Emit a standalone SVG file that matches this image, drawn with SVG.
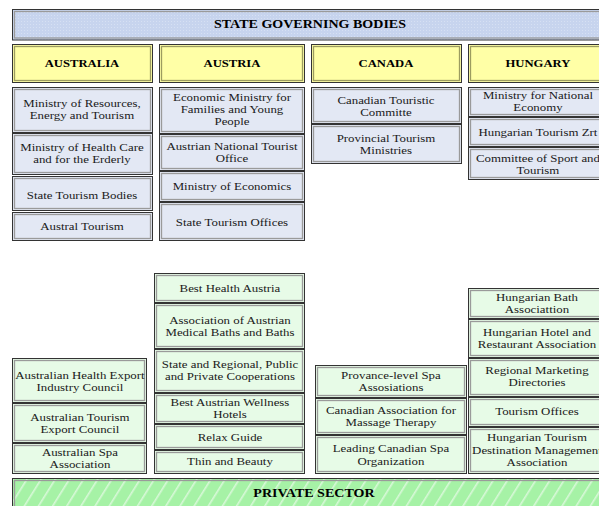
<svg xmlns="http://www.w3.org/2000/svg" width="599" height="506" viewBox="0 0 599 506">
<defs>
<pattern id="stripes" patternUnits="userSpaceOnUse" width="12" height="12" patternTransform="rotate(32)">
<rect width="12" height="12" fill="#a6f2a6"/>
<rect width="1.6" height="12" fill="#d8f8d8"/>
</pattern>
<pattern id="grid" patternUnits="userSpaceOnUse" width="3" height="3">
<rect width="3" height="3" fill="#c7d4ee"/>
<rect width="1" height="1" fill="#d6e0f3"/>
</pattern>
</defs>
<style>
text{font-family:"Liberation Serif","Times New Roman",serif;font-size:11px;fill:#1a1a1a;text-anchor:middle;transform-box:fill-box;transform-origin:center;transform:scaleX(1.17)}
.b{font-weight:bold;font-size:11px;fill:#000;transform:scaleX(1.15)}
.bb{font-weight:bold;font-size:12px;fill:#000;transform:scaleX(1.17)}
.o{stroke:#333;stroke-width:1}
.i{fill:none;stroke:#9a9a9a;stroke-width:1.3}
.hi{fill:none;stroke:#9c9c60;stroke-width:1.3}
.gov{fill:#e3e8f4}
.prv{fill:#e7fbe7}
.hdr{fill:#ffffa6}
</style>
<rect width="599" height="506" fill="#fff"/>
<g id="connectors"/>

<g id="state-governing-bodies">
<rect class="o" x="12.5" y="9.5" width="600" height="30.5" fill="url(#grid)"/>
<rect class="i" x="14.5" y="11.5" width="596" height="26.5"/>
<text class="bb" x="310" y="28.5">STATE GOVERNING BODIES</text>
</g>

<g id="hdr-australia"><rect class="o hdr" x="12.5" y="44.5" width="140" height="38"/><rect class="hi" x="14.5" y="46.5" width="136" height="34"/><text class="b" x="82" y="67">AUSTRALIA</text></g>
<g id="hdr-austria"><rect class="o hdr" x="159.5" y="44.5" width="145" height="38"/><rect class="hi" x="161.5" y="46.5" width="141" height="34"/><text class="b" x="232" y="67">AUSTRIA</text></g>
<g id="hdr-canada"><rect class="o hdr" x="311.5" y="44.5" width="150" height="38"/><rect class="hi" x="313.5" y="46.5" width="146" height="34"/><text class="b" x="386" y="67">CANADA</text></g>
<g id="hdr-hungary"><rect class="o hdr" x="468.5" y="44.5" width="140" height="38"/><rect class="hi" x="470.5" y="46.5" width="136" height="34"/><text class="b" x="538" y="67">HUNGARY</text></g>

<g id="au-gov-1"><rect class="o gov" x="12.5" y="87.5" width="140" height="45"/><rect class="i" x="14.5" y="89.5" width="136" height="41"/><text x="82" y="107.5">Ministry of Resources,</text><text x="82" y="119.5">Energy and Tourism</text></g>
<g id="au-gov-2"><rect class="o gov" x="12.5" y="133.5" width="140" height="41"/><rect class="i" x="14.5" y="135.5" width="136" height="37"/><text x="82" y="151.5">Ministry of Health Care</text><text x="82" y="163.5">and for the Erderly</text></g>
<g id="au-gov-3"><rect class="o gov" x="12.5" y="176.5" width="140" height="34"/><rect class="i" x="14.5" y="178.5" width="136" height="30"/><text x="82" y="199">State Tourism Bodies</text></g>
<g id="au-gov-4"><rect class="o gov" x="12.5" y="212.5" width="140" height="28"/><rect class="i" x="14.5" y="214.5" width="136" height="24"/><text x="82" y="230">Austral Tourism</text></g>

<g id="at-gov-1"><rect class="o gov" x="159.5" y="87.5" width="145" height="46"/><rect class="i" x="161.5" y="89.5" width="141" height="42"/><text x="232" y="101.5">Economic Ministry for</text><text x="232" y="113.5">Families and Young</text><text x="232" y="125.5">People</text></g>
<g id="at-gov-2"><rect class="o gov" x="159.5" y="134.5" width="145" height="36"/><rect class="i" x="161.5" y="136.5" width="141" height="32"/><text x="232" y="150">Austrian National Tourist</text><text x="232" y="162">Office</text></g>
<g id="at-gov-3"><rect class="o gov" x="159.5" y="171.5" width="145" height="30"/><rect class="i" x="161.5" y="173.5" width="141" height="26"/><text x="232" y="190">Ministry of Economics</text></g>
<g id="at-gov-4"><rect class="o gov" x="159.5" y="202.5" width="145" height="38"/><rect class="i" x="161.5" y="204.5" width="141" height="34"/><text x="232" y="226">State Tourism Offices</text></g>

<g id="ca-gov-1"><rect class="o gov" x="311.5" y="87.5" width="150" height="36"/><rect class="i" x="313.5" y="89.5" width="146" height="32"/><text x="386" y="104">Canadian Touristic</text><text x="386" y="116">Committe</text></g>
<g id="ca-gov-2"><rect class="o gov" x="311.5" y="124.5" width="150" height="39"/><rect class="i" x="313.5" y="126.5" width="146" height="35"/><text x="386" y="142.5">Provincial Tourism</text><text x="386" y="154.5">Ministries</text></g>

<g id="hu-gov-1"><rect class="o gov" x="468.5" y="87.5" width="140" height="29"/><rect class="i" x="470.5" y="89.5" width="136" height="25"/><text x="538" y="99.5">Ministry for National</text><text x="538" y="111">Economy</text></g>
<g id="hu-gov-2"><rect class="o gov" x="468.5" y="117.5" width="140" height="29"/><rect class="i" x="470.5" y="119.5" width="136" height="25"/><text x="538" y="136">Hungarian Tourism Zrt</text></g>
<g id="hu-gov-3"><rect class="o gov" x="468.5" y="147.5" width="140" height="32"/><rect class="i" x="470.5" y="149.5" width="136" height="28"/><text x="538" y="162">Committee of Sport and</text><text x="538" y="174">Tourism</text></g>

<g id="au-prv-1"><rect class="o prv" x="12.5" y="358.5" width="134" height="44"/><rect class="i" x="14.5" y="360.5" width="130" height="40"/><text x="80" y="379">Australian Health Export</text><text x="80" y="391">Industry Council</text></g>
<g id="au-prv-2"><rect class="o prv" x="12.5" y="403.5" width="134" height="39"/><rect class="i" x="14.5" y="405.5" width="130" height="35"/><text x="80" y="421.5">Australian Tourism</text><text x="80" y="433.5">Export Council</text></g>
<g id="au-prv-3"><rect class="o prv" x="12.5" y="443.5" width="134" height="30"/><rect class="i" x="14.5" y="445.5" width="130" height="26"/><text x="80" y="456.5">Australian Spa</text><text x="80" y="468">Association</text></g>

<g id="at-prv-1"><rect class="o prv" x="154.5" y="273.5" width="150" height="29"/><rect class="i" x="156.5" y="275.5" width="146" height="25"/><text x="230" y="292">Best Health Austria</text></g>
<g id="at-prv-2"><rect class="o prv" x="154.5" y="303.5" width="150" height="45"/><rect class="i" x="156.5" y="305.5" width="146" height="41"/><text x="230" y="324.5">Association of Austrian</text><text x="230" y="336.5">Medical Baths and Baths</text></g>
<g id="at-prv-3"><rect class="o prv" x="154.5" y="349.5" width="150" height="43"/><rect class="i" x="156.5" y="351.5" width="146" height="39"/><text x="230" y="368">State and Regional, Public</text><text x="230" y="380">and Private Cooperations</text></g>
<g id="at-prv-4"><rect class="o prv" x="154.5" y="393.5" width="150" height="30"/><rect class="i" x="156.5" y="395.5" width="146" height="26"/><text x="230" y="406">Best Austrian Wellness</text><text x="230" y="418">Hotels</text></g>
<g id="at-prv-5"><rect class="o prv" x="154.5" y="424.5" width="150" height="25"/><rect class="i" x="156.5" y="426.5" width="146" height="21"/><text x="230" y="441">Relax Guide</text></g>
<g id="at-prv-6"><rect class="o prv" x="154.5" y="450.5" width="150" height="23"/><rect class="i" x="156.5" y="452.5" width="146" height="19"/><text x="230" y="465">Thin and Beauty</text></g>

<g id="ca-prv-1"><rect class="o prv" x="315.5" y="365.5" width="151" height="32"/><rect class="i" x="317.5" y="367.5" width="147" height="28"/><text x="391" y="379.5">Provance-level Spa</text><text x="391" y="391.5">Assosiations</text></g>
<g id="ca-prv-2"><rect class="o prv" x="315.5" y="398.5" width="151" height="36"/><rect class="i" x="317.5" y="400.5" width="147" height="32"/><text x="391" y="414">Canadian Association for</text><text x="391" y="426">Massage Therapy</text></g>
<g id="ca-prv-3"><rect class="o prv" x="315.5" y="435.5" width="151" height="38"/><rect class="i" x="317.5" y="437.5" width="147" height="34"/><text x="391" y="452">Leading Canadian Spa</text><text x="391" y="465">Organization</text></g>

<g id="hu-prv-1"><rect class="o prv" x="468.5" y="288.5" width="140" height="30"/><rect class="i" x="470.5" y="290.5" width="136" height="26"/><text x="537" y="301">Hungarian Bath</text><text x="537" y="313">Associattion</text></g>
<g id="hu-prv-2"><rect class="o prv" x="468.5" y="319.5" width="140" height="38"/><rect class="i" x="470.5" y="321.5" width="136" height="34"/><text x="537" y="336">Hungarian Hotel and</text><text x="537" y="348">Restaurant Association</text></g>
<g id="hu-prv-3"><rect class="o prv" x="468.5" y="358.5" width="140" height="38"/><rect class="i" x="470.5" y="360.5" width="136" height="34"/><text x="537" y="374">Regional Marketing</text><text x="537" y="386">Directories</text></g>
<g id="hu-prv-4"><rect class="o prv" x="468.5" y="397.5" width="140" height="29"/><rect class="i" x="470.5" y="399.5" width="136" height="25"/><text x="537" y="415">Tourism Offices</text></g>
<g id="hu-prv-5"><rect class="o prv" x="468.5" y="427.5" width="140" height="46"/><rect class="i" x="470.5" y="429.5" width="136" height="42"/><text x="537" y="441">Hungarian Tourism</text><text x="537" y="454">Destination Management</text><text x="537" y="466">Association</text></g>

<g id="private-sector">
<rect class="o" x="12.5" y="478.5" width="600" height="40" fill="url(#stripes)"/>
<rect class="i" x="14.5" y="480.5" width="596" height="36" stroke="#6a8a6a"/>
<text class="bb" x="314" y="497">PRIVATE SECTOR</text>
</g>
</svg>
